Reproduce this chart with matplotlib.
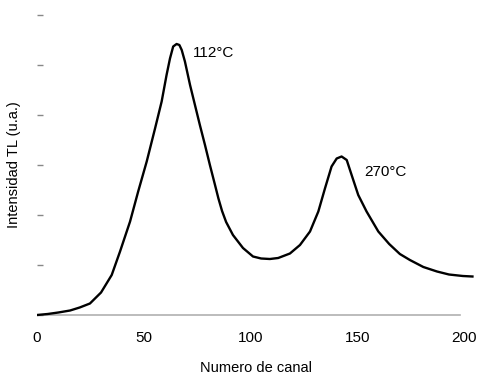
import matplotlib
matplotlib.use("Agg")
import matplotlib.pyplot as plt

plt.rcParams['font.family'] = ['Liberation Sans', 'DejaVu Sans']

# glow curve (channel, intensity in tick units)
canal = [0, 5, 10, 15.5, 20, 24.8, 30, 35.0, 38.9, 43.6, 47.4, 51.4, 55.3, 58.4,
         60.7, 62.3, 63.8, 65.4, 66.7, 67.8, 69.3, 71.7, 74.0, 76.3, 78.7, 81.0,
         83.4, 85.0, 86.7, 88.6, 91.8, 96.5, 101.2, 105, 109.1, 113, 118.5, 123.2,
         127.9, 131.8, 134.9, 138.0, 140.4, 142.7, 145.1, 147.4, 150.5, 154.4,
         159.9, 165, 170, 174.7, 181, 187.4, 193, 199.5, 204]
intensidad = [0.0, 0.02, 0.05, 0.09, 0.15, 0.23, 0.45, 0.80, 1.27, 1.87, 2.47, 3.07, 3.73, 4.27,
              4.8, 5.13, 5.37, 5.42, 5.40, 5.30, 5.07, 4.6, 4.2, 3.8, 3.4, 3.0,
              2.6, 2.33, 2.08, 1.86, 1.6, 1.34, 1.17, 1.13, 1.12, 1.14, 1.23, 1.40,
              1.67, 2.07, 2.53, 2.97, 3.13, 3.17, 3.10, 2.80, 2.40, 2.07,
              1.67, 1.42, 1.22, 1.1, 0.96, 0.87, 0.81, 0.78, 0.77]

picos = [(73.0, 5.24, "112°C"), (153.2, 2.86, "270°C")]

fig = plt.figure(figsize=(4.8, 3.77), dpi=100)
ax = fig.add_axes([37 / 480, (377 - 318) / 377, (475 - 37) / 480, 306 / 377])

ax.axhline(0, xmin=0, xmax=198 / 205.2, color='#b0b0b0', lw=1.2, zorder=1)
ax.plot(canal, intensidad, color='black', lw=1.7, zorder=2,
        solid_joinstyle='round')

for x, y, t in picos:
    ax.text(x, y, t, fontsize=11, va='center', ha='left')

ax.set_xlim(0, 205.2)
ax.set_ylim(-0.06, 6.06)
ax.set_xticks([0, 50, 100, 150, 200])
ax.set_yticks(range(7))
ax.set_yticklabels([])
ax.tick_params(axis='x', length=0, pad=9, labelsize=11)
ax.tick_params(axis='y', direction='in', length=4, width=1, color='#888888')
for s in ax.spines.values():
    s.set_visible(False)

ax.set_xlabel("Numero de canal", fontsize=10.5, labelpad=12)
ax.set_ylabel("Intensidad TL (u.a.)", fontsize=10.5, labelpad=8)

fig.savefig("out.png", dpi=100)
